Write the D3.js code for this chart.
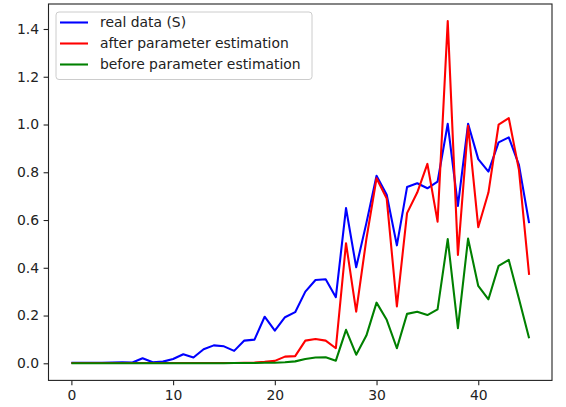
<!DOCTYPE html>
<html>
<head>
<meta charset="utf-8">
<script src="https://cdn.jsdelivr.net/npm/d3@7"></script>
<style>
  body { margin: 0; background: #fff; }
  svg { display: block; font-family: "DejaVu Sans", sans-serif; }
</style>
</head>
<body>
<div id="chart"></div>
<script>
// values, index 0..45
const realData = [0.002, 0.002, 0.002, 0.002, 0.003, 0.004, 0.003, 0.021, 0.004, 0.007,
  0.018, 0.038, 0.024, 0.059, 0.075, 0.071, 0.052, 0.095, 0.099, 0.195,
  0.137, 0.193, 0.214, 0.300, 0.349, 0.352, 0.277, 0.650, 0.402, 0.587,
  0.785, 0.706, 0.494, 0.738, 0.754, 0.733, 0.761, 1.003, 0.659, 1.003,
  0.855, 0.803, 0.925, 0.946, 0.831, 0.587];
const afterEst = [0.001, 0.001, 0.001, 0.001, 0.001, 0.001, 0.001, 0.001, 0.001, 0.001,
  0.001, 0.001, 0.001, 0.001, 0.001, 0.001, 0.001, 0.002, 0.003, 0.006,
  0.010, 0.028, 0.030, 0.095, 0.102, 0.095, 0.063, 0.503, 0.216, 0.520,
  0.775, 0.690, 0.238, 0.629, 0.715, 0.835, 0.593, 1.433, 0.454, 0.995,
  0.570, 0.715, 0.999, 1.027, 0.810, 0.370];
const beforeEst = [0.000, 0.000, 0.000, 0.000, 0.000, 0.000, 0.000, 0.000, 0.000, 0.000,
  0.000, 0.000, 0.000, 0.000, 0.000, 0.000, 0.001, 0.001, 0.001, 0.002,
  0.002, 0.004, 0.008, 0.018, 0.024, 0.025, 0.011, 0.140, 0.036, 0.116,
  0.254, 0.182, 0.063, 0.207, 0.216, 0.202, 0.226, 0.520, 0.147, 0.522,
  0.324, 0.268, 0.408, 0.433, 0.270, 0.105];
const seriesNames = ["real data (S)", "after parameter estimation", "before parameter estimation"];
const xTicks = [0, 10, 20, 30, 40];
const yTicks = [0.0, 0.2, 0.4, 0.6, 0.8, 1.0, 1.2, 1.4];

const width = 566, height = 407;
const box = { left: 48.5, right: 552, top: 4, bottom: 380.4 };
const colors = ["#0000ff", "#ff0000", "#008000"];
const series = [realData, afterEst, beforeEst];

const n = realData.length;
const xPad = (n - 1) * 0.05;
const x = d3.scaleLinear().domain([-xPad, n - 1 + xPad]).range([box.left, box.right]);

const allVals = series.flat();
const yMin = d3.min(allVals), yMax = d3.max(allVals);
const yPad = (yMax - yMin) * 0.05;
const y = d3.scaleLinear().domain([yMin - yPad, yMax + yPad]).range([box.bottom, box.top]);

const svg = d3.select("#chart").append("svg")
  .attr("width", width)
  .attr("height", height);

const line = d3.line()
  .x((d, i) => x(i))
  .y(d => y(d));

const plot = svg.append("g");
series.forEach((s, k) => {
  plot.append("path")
    .datum(s)
    .attr("fill", "none")
    .attr("stroke", colors[k])
    .attr("stroke-width", 2.08)
    .attr("stroke-linejoin", "round")
    .attr("d", line);
});

// axes
const xAxis = svg.append("g")
  .attr("transform", `translate(0,${box.bottom})`)
  .call(d3.axisBottom(x).tickValues(xTicks).tickSize(4.9).tickPadding(4.5).tickFormat(d3.format("d")));
const yAxis = svg.append("g")
  .attr("transform", `translate(${box.left},0)`)
  .call(d3.axisLeft(y).tickValues(yTicks).tickSize(4.9).tickPadding(4.5).tickFormat(d3.format(".1f")));

[xAxis, yAxis].forEach(g => {
  g.select(".domain").remove();
  g.selectAll(".tick line").attr("stroke", "#222").attr("stroke-width", 1.1);
  g.selectAll(".tick text")
    .attr("fill", "#222")
    .style("font-size", "13.9px")
    .style("font-family", "DejaVu Sans, sans-serif");
});

// frame
svg.append("rect")
  .attr("x", box.left)
  .attr("y", box.top)
  .attr("width", box.right - box.left)
  .attr("height", box.bottom - box.top)
  .attr("fill", "none")
  .attr("stroke", "#222")
  .attr("stroke-width", 1.1);

// legend
const legend = svg.append("g").attr("transform", "translate(56,12)");
legend.append("rect")
  .attr("width", 256)
  .attr("height", 67.5)
  .attr("rx", 3)
  .attr("fill", "#fff")
  .attr("fill-opacity", 0.8)
  .attr("stroke", "#cccccc")
  .attr("stroke-width", 1);

const rows = legend.selectAll("g.row")
  .data(seriesNames)
  .enter().append("g")
  .attr("class", "row")
  .attr("transform", (d, i) => `translate(0,${10.5 + i * 21})`);

rows.append("line")
  .attr("x1", 4).attr("x2", 32)
  .attr("stroke", (d, i) => colors[i])
  .attr("stroke-width", 2.08);

rows.append("text")
  .attr("x", 44)
  .attr("dy", "0.35em")
  .attr("fill", "#222")
  .style("font-size", "13.9px")
  .text(d => d);
</script>
</body>
</html>
